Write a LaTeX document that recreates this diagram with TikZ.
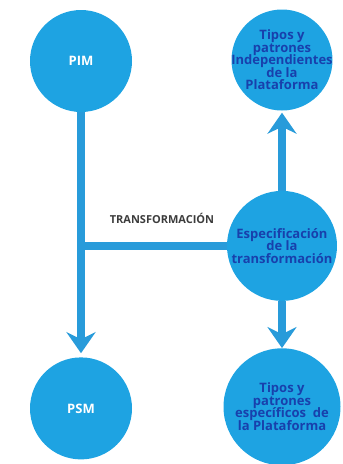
\documentclass[tikz,border=0pt]{standalone}
\usepackage{fontspec}
\newfontfamily\diagfont{Open Sans}
\usetikzlibrary{arrows.meta, positioning}
\definecolor{bubblue}{RGB}{30,163,226}
\definecolor{lineblue}{RGB}{40,155,218}
\definecolor{txtblue}{RGB}{24,64,172}
\definecolor{lblgray}{RGB}{60,60,60}

\begin{document}
\begin{tikzpicture}[
			x=1pt, y=-1pt,
			node distance=80pt,
			model/.style={circle, fill=bubblue, inner sep=0pt, minimum size=102pt, align=center, font=\diagfont\bfseries\fontsize{13}{13}\selectfont, text=white},
			pattern/.style={circle, fill=bubblue, inner sep=-12pt, minimum size=101pt, align=center, font={\diagfont\bfseries\fontsize{13}{12.5}\selectfont\lineskiplimit=-6pt}, text=txtblue},
			tag/.style={font=\diagfont\bfseries\fontsize{11}{12}\selectfont, text=lblgray},
			link/.style={draw=lineblue, line width=8.5pt},
			arr/.style={link, -{Stealth[length=21pt, width=29pt, inset=7pt]}}
			]
			\useasboundingbox (0,0) rectangle (343,464);
			\node[model] (pim) at (81,61) {PIM};
			\node[model, below=245pt of pim] (psm) {PSM};
			\node[pattern] (tind) at (282,60) {Tipos y\\patrones\\Independientes\\de la\\Plataforma};
			\node[pattern, minimum size=110pt, below=80pt of tind] (spec) {Especificación\\de la\\transformación};
			\node[pattern, minimum size=117pt, below=47pt of spec] (tesp) {Tipos y\\patrones\\específicos\ \ de\\la Plataforma};
			\node[tag] (trans) at (162,218) {TRANSFORMACIÓN};
			\draw[arr, shorten >=4pt] (pim) -- (psm);
			\draw[link] (spec.west) -- (spec.west -| pim.center);
			\draw[arr, shorten >=2pt] (spec) -- (tind);
			\draw[arr] (spec) -- (tesp);
		\end{tikzpicture}
\end{document}
